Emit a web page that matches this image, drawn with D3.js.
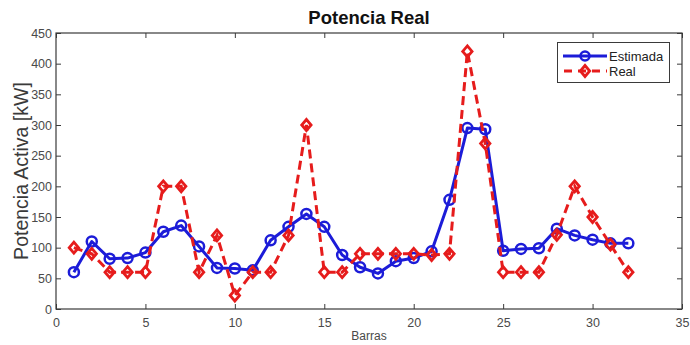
<!DOCTYPE html>
<html>
<head>
<meta charset="utf-8">
<script src="https://cdn.jsdelivr.net/npm/d3@7"></script>
<style>
  html, body { margin: 0; padding: 0; background: #fff; }
  svg { display: block; font-family: "Liberation Sans", Arial, Helvetica, sans-serif; }
</style>
</head>
<body>
<svg id="chart" width="690" height="345"></svg>
<script>
// Bus numbers and active power per bus (kW)
const barras = d3.range(1, 33);
const estimada = [60, 110, 82, 83, 92, 126, 136, 102, 67, 66, 63, 112, 134, 155, 134, 88,
                  68, 58, 78, 83, 94, 178, 295, 293, 95, 98, 99, 131, 120, 113, 107, 107];
const real = [100, 90, 60, 60, 60, 200, 200, 60, 120, 22, 60, 60, 120, 300, 60, 60,
              90, 90, 90, 90, 88, 90, 420, 270, 60, 60, 60, 121, 200, 150, 105, 60];
const xTicks = [0, 5, 10, 15, 20, 25, 30, 35];
const yTicks = [0, 50, 100, 150, 200, 250, 300, 350, 400, 450];
const seriesNames = ["Estimada", "Real"];

const blue = "#1c1cd8";
const red = "#e61c1c";

const svg = d3.select("#chart");
const plotLeft = 56, plotRight = 682, plotTop = 33, plotBottom = 309;

const x = d3.scaleLinear().domain([0, 35]).range([plotLeft, plotRight]);
const y = d3.scaleLinear().domain([0, 450]).range([plotBottom, plotTop]);

// Axes box with inward ticks on all four sides
const axisColor = "#3a3a3a";
const tickLen = 5;
const g = svg.append("g");

g.append("g")
  .attr("transform", `translate(0,${plotBottom})`)
  .call(d3.axisBottom(x).tickValues(xTicks).tickSizeInner(-tickLen).tickSizeOuter(0).tickPadding(9));
g.append("g")
  .attr("transform", `translate(0,${plotTop})`)
  .call(d3.axisTop(x).tickValues(xTicks).tickSizeInner(-tickLen).tickSizeOuter(0).tickFormat(""));
g.append("g")
  .attr("transform", `translate(${plotLeft},0)`)
  .call(d3.axisLeft(y).tickValues(yTicks).tickSizeInner(-tickLen).tickSizeOuter(0).tickPadding(4));
g.append("g")
  .attr("transform", `translate(${plotRight},0)`)
  .call(d3.axisRight(y).tickValues(yTicks).tickSizeInner(-tickLen).tickSizeOuter(0).tickFormat(""));

g.selectAll(".domain").remove();
g.selectAll(".tick line").attr("stroke", axisColor).attr("stroke-width", 1);
g.selectAll(".tick text")
  .attr("fill", "#4a4a4a")
  .style("font-size", "12.5px")
  .style("font-family", "'Liberation Sans', Arial, sans-serif");

g.append("rect")
  .attr("x", plotLeft).attr("y", plotTop)
  .attr("width", plotRight - plotLeft).attr("height", plotBottom - plotTop)
  .attr("fill", "none").attr("stroke", axisColor).attr("stroke-width", 1.2);

// Series lines
const line = d3.line().x((d, i) => x(barras[i])).y(d => y(d));

svg.append("path")
  .datum(estimada)
  .attr("d", line)
  .attr("fill", "none")
  .attr("stroke", blue)
  .attr("stroke-width", 3)
  .attr("stroke-linejoin", "round");

svg.selectAll("circle.est")
  .data(estimada)
  .join("circle")
  .attr("class", "est")
  .attr("cx", (d, i) => x(barras[i]))
  .attr("cy", d => y(d))
  .attr("r", 5)
  .attr("fill", "none")
  .attr("stroke", blue)
  .attr("stroke-width", 2.5);

svg.append("path")
  .datum(real)
  .attr("d", line)
  .attr("fill", "none")
  .attr("stroke", red)
  .attr("stroke-width", 3)
  .attr("stroke-dasharray", "9,5");

const diamond = (cx, cy, s) => `M${cx},${cy - s}L${cx + s * 0.85},${cy}L${cx},${cy + s}L${cx - s * 0.85},${cy}Z`;

svg.selectAll("path.real")
  .data(real)
  .join("path")
  .attr("class", "real")
  .attr("d", (d, i) => diamond(x(barras[i]), y(d), 5.5))
  .attr("fill", "none")
  .attr("stroke", red)
  .attr("stroke-width", 2.8);

// Title and axis labels
svg.append("text")
  .attr("x", (plotLeft + plotRight) / 2).attr("y", 24)
  .attr("text-anchor", "middle")
  .style("font-size", "18.5px").style("font-weight", "bold")
  .attr("fill", "#111")
  .text("Potencia Real");

svg.append("text")
  .attr("transform", `translate(28,${(plotTop + plotBottom) / 2}) rotate(-90)`)
  .attr("text-anchor", "middle")
  .style("font-size", "19.5px")
  .attr("fill", "#3a3a3a")
  .text("Potencia Activa [kW]");

svg.append("text")
  .attr("x", (plotLeft + plotRight) / 2).attr("y", 340)
  .attr("text-anchor", "middle")
  .style("font-size", "12px")
  .attr("fill", "#4a4a4a")
  .text("Barras");

// Legend
const lg = svg.append("g");
lg.append("rect")
  .attr("x", 557.5).attr("y", 42.5).attr("width", 112).attr("height", 40)
  .attr("fill", "#fff").attr("stroke", axisColor).attr("stroke-width", 1);

const legendRows = [
  { name: seriesNames[0], color: blue, dash: null, yy: 56 },
  { name: seriesNames[1], color: red, dash: "9,5", yy: 71 }
];
legendRows.forEach((r, k) => {
  lg.append("line")
    .attr("x1", 563).attr("x2", 607).attr("y1", r.yy).attr("y2", r.yy)
    .attr("stroke", r.color).attr("stroke-width", 3)
    .attr("stroke-dasharray", r.dash ? "8,6" : null)
    .attr("stroke-dashoffset", r.dash ? -1 : null);
  if (k === 0) {
    lg.append("circle").attr("cx", 585).attr("cy", r.yy).attr("r", 4.5)
      .attr("fill", "none").attr("stroke", r.color).attr("stroke-width", 2.5);
  } else {
    lg.append("path").attr("d", diamond(585, r.yy, 5.5))
      .attr("fill", "none").attr("stroke", r.color).attr("stroke-width", 2.8);
  }
  lg.append("text")
    .attr("x", 609).attr("y", r.yy + 4.5)
    .style("font-size", "13px")
    .attr("fill", "#222")
    .text(r.name);
});
</script>
</body>
</html>
